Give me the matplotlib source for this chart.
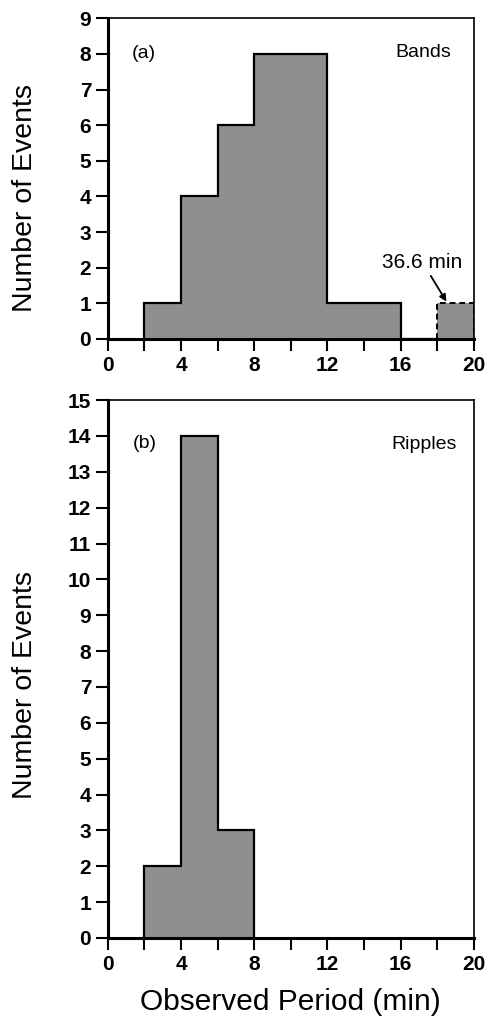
import numpy as np
import matplotlib
matplotlib.use('Agg')
import matplotlib.pyplot as plt

plt.rcParams['font.family'] = ['Liberation Sans', 'DejaVu Sans']

# Panel (a): bands, bin edges in minutes and counts
band_edges = [2, 4, 6, 8, 10, 12, 14, 16, 18]
band_counts = [1, 4, 6, 8, 8, 1, 1, 0]
# the one outlier (36.6 min) drawn in the last bin with a dashed outline
outlier_edges = [18, 20]
outlier_counts = [1]

# Panel (b): ripples
ripple_edges = [2, 4, 6, 8]
ripple_counts = [2, 14, 3]

x_major = [0, 4, 8, 12, 16, 20]
x_minor = [2, 6, 10, 14, 18]

fill_color = '#8f8f8f'

fig = plt.figure(figsize=(4.88, 10.18), dpi=100)
ax1 = fig.add_axes([0.221, 0.667, 0.750, 0.315])
ax2 = fig.add_axes([0.221, 0.0786, 0.750, 0.5284])


def style_axis(ax, ymax):
    ax.set_xlim(0, 20)
    ax.set_ylim(0, ymax)
    ax.set_xticks(x_major)
    ax.set_xticks(x_minor, minor=True)
    ax.set_yticks(range(0, ymax + 1))
    ax.tick_params(axis='both', which='both', direction='out', length=8.5,
                   width=1.5, labelsize=15, pad=3.5)
    for lab in ax.get_xticklabels() + ax.get_yticklabels():
        lab.set_fontweight('bold')
    ax.spines['left'].set_linewidth(2.2)
    ax.spines['bottom'].set_linewidth(2.2)
    ax.spines['right'].set_linewidth(1.2)
    ax.spines['top'].set_linewidth(1.2)
    for sp in ax.spines.values():
        sp.set_zorder(5)


# (a) Bands
ax1.stairs(band_counts, band_edges, fill=True, facecolor=fill_color,
           edgecolor='black', linewidth=1.6, zorder=2)
ax1.stairs(outlier_counts, outlier_edges, fill=True, facecolor=fill_color,
           edgecolor='none', zorder=2)
ax1.stairs(outlier_counts, outlier_edges, fill=False, edgecolor='black',
           linewidth=1.4, linestyle=(0, (3, 2)), zorder=3)
style_axis(ax1, 9)
ax1.text(1.95, 8.0, '(a)', fontsize=14, ha='center', va='center')
ax1.text(17.25, 8.05, 'Bands', fontsize=14, ha='center', va='center')
ax1.annotate('36.6 min', xy=(18.5, 1.05), xytext=(17.2, 2.15),
             fontsize=15, ha='center', va='center',
             arrowprops=dict(arrowstyle='-|>', color='black', lw=1.3,
                             shrinkA=1, shrinkB=0, mutation_scale=10))
ax1.set_ylabel('Number of Events', fontsize=20.5)
ax1.yaxis.set_label_coords(-0.19, 0.44)

# (b) Ripples
ax2.stairs(ripple_counts, ripple_edges, fill=True, facecolor=fill_color,
           edgecolor='black', linewidth=1.6, zorder=2)
style_axis(ax2, 15)
ax2.text(2.0, 13.8, '(b)', fontsize=14, ha='center', va='center')
ax2.text(17.3, 13.75, 'Ripples', fontsize=14, ha='center', va='center')
ax2.set_ylabel('Number of Events', fontsize=20.5)
ax2.yaxis.set_label_coords(-0.19, 0.47)
ax2.set_xlabel('Observed Period (min)', fontsize=21.5, labelpad=10)

fig.savefig('out.png', dpi=100)
